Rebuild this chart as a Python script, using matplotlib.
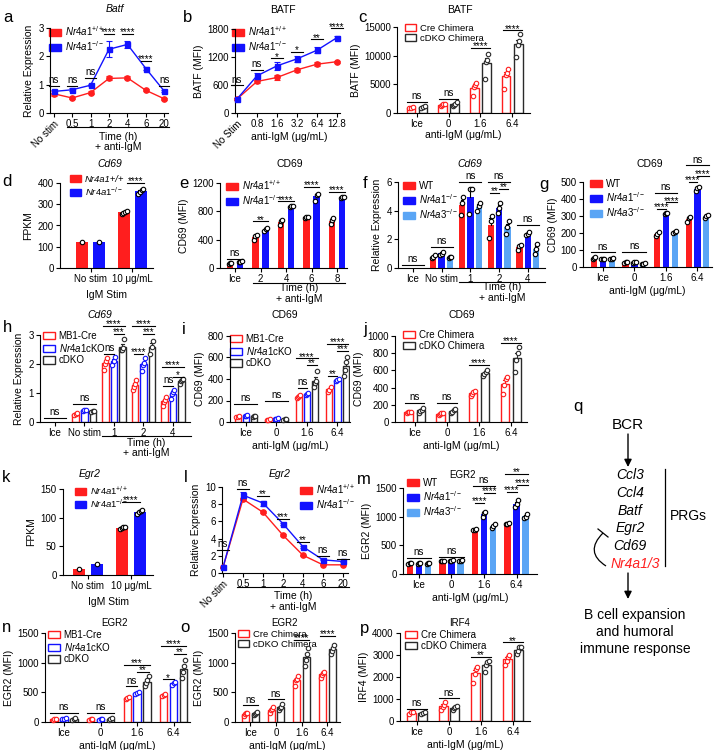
import numpy as np
import matplotlib
matplotlib.use('Agg')
import matplotlib.pyplot as plt
from matplotlib import transforms
from matplotlib.patches import Patch, FancyArrowPatch, PathPatch
from matplotlib.path import Path

plt.rcParams['font.family'] = ['Liberation Sans', 'DejaVu Sans']
plt.rcParams['mathtext.fontset'] = 'custom'
plt.rcParams['mathtext.rm'] = 'Liberation Sans'
plt.rcParams['mathtext.it'] = 'Liberation Sans:italic'
plt.rcParams['mathtext.bf'] = 'Liberation Sans:bold'
plt.rcParams['font.size'] = 7
plt.rcParams['axes.linewidth'] = 0.8

RED = '#ff1e1e'
BLUE = '#1212ff'
LBLUE = '#5aa5f5'
BLK = '#2a2a2a'

# ---------------- data ----------------
a_cats = ['No stim', '0.5', '1', '2', '4', '6', '20']
a_wt = [0.68, 0.53, 0.72, 1.22, 1.24, 0.80, 0.50]
a_wt_err = [0.08, 0.03, 0.04, 0.07, 0.05, 0.04, 0.03]
a_ko = [0.76, 0.82, 0.98, 2.25, 2.42, 1.57, 0.77]
a_ko_err = [0.05, 0.05, 0.04, 0.28, 0.13, 0.06, 0.04]
a_sig = ['ns', 'ns', 'ns', '****', '****', '****', 'ns']
a_sig_y = [0.96, 0.96, 1.24, 2.79, 2.79, 1.85, 0.96]

b_cats = ['No Stim', '0.8', '1.6', '3.2', '6.4', '12.8']
b_wt = [300, 676, 761, 925, 1046, 1100]
b_wt_err = [20, 40, 60, 40, 40, 20]
b_ko = [300, 797, 1010, 1160, 1345, 1615]
b_ko_err = [20, 50, 80, 60, 60, 30]
b_sig = ['ns', 'ns', '*', '*', '**', '****']
b_sig_y = [590, 925, 1174, 1316, 1580, 1814]

dose_cats = ['Ice', '0', '1.6', '6.4']

c_cre = [[850, 950, 1000], [1200, 1400, 1500, 1600], [3000, 4500, 4800, 5300], [4200, 6700, 7000, 7600]]
c_dko = [[900, 1100, 1150], [1200, 1400, 1600, 1900], [6000, 8900, 9300, 10350], [9800, 11800, 12600, 13700]]
c_sig = ['ns', 'ns', '****', '****']
c_sig_y = [1900, 2400, 11340, 14400]

d_cats = ['No stim', '10 μg/mL']
d_wt = [[120], [255, 260, 265, 270]]
d_ko = [[120], [350, 360, 365, 372]]

e_cats = ['Ice', '2', '4', '6', '8']
e_wt = [[60, 70, 75], [400, 450, 460], [600, 660, 680], [700, 715, 725], [620, 680, 700]]
e_ko = [[80, 88, 100], [520, 550, 560], [860, 875, 880], [950, 1030, 1050], [990, 1000, 1005]]
e_sig = ['ns', '**', '****', '****', '****']
e_sig_y = [130, 660, 941, 1143, 1073]

f_cats = ['Ice', 'No stim', '1', '2', '4']
f_wt = [[], [0.7, 0.8, 0.9], [3.7, 4.5, 4.95], [2.1, 3.3, 3.6], [1.25, 1.5, 1.6]]
f_nr4a1 = [[], [0.9, 1.0, 1.15], [3.8, 5.5, 5.5], [3.85, 4.2, 4.55], [2.3, 2.4, 2.5]]
f_nr4a3 = [[], [0.7, 0.75, 0.8], [4.0, 4.35, 4.5], [2.4, 2.85, 3.25], [1.0, 1.3, 1.7]]

g_wt = [[50, 55, 58], [25, 28, 30], [185, 195, 205], [265, 290, 292]]
g_nr4a1 = [[45, 48, 50], [25, 28, 32], [310, 315, 318], [448, 462, 468]]
g_nr4a3 = [[45, 50, 55], [18, 20, 22], [198, 205, 212], [290, 300, 308]]

h_cats = ['Ice', 'No stim', '1', '2', '4']
h_mb1 = [[], [0.25, 0.28, 0.31], [1.8, 2.0, 2.1, 2.2], [1.1, 1.2, 1.3, 1.45], [0.55, 0.68, 0.75, 0.85]]
h_cko = [[], [0.38, 0.4, 0.42], [1.95, 2.1, 2.25], [1.75, 1.95, 2.05, 2.2], [0.8, 0.95, 1.05, 1.1]]
h_dko = [[], [0.35, 0.37, 0.39], [2.5, 2.5, 2.55, 2.85], [2.35, 2.6, 2.8], [1.3, 1.4, 1.45, 1.5]]

i_mb1 = [[45, 50, 55], [15, 20, 25], [220, 235, 245, 255], [280, 300, 330]]
i_cko = [[55, 60, 65], [25, 30, 35], [255, 265, 270], [380, 392, 400]]
i_dko = [[50, 55, 60], [20, 25, 30], [324, 361, 377, 470], [430, 480, 560, 600]]

j_cre = [[110, 115, 118, 122], [80, 90, 100, 110], [300, 320, 350, 360], [324, 425, 502, 521]]
j_dko = [[110, 130, 145, 160], [100, 115, 135, 150], [540, 560, 580, 600], [587, 722, 799, 876]]
j_sig = ['ns', 'ns', '****', '****']
j_sig_y = [220, 220, 663, 918]

k_wt = [[11], [81, 82, 83, 84]]
k_ko = [[20], [107, 110, 112, 114]]

l_cats = ['No stim', '0.5', '1', '2', '4', '6', '20']
l_wt = [0.65, 8.59, 7.06, 4.39, 2.06, 0.95, 0.95]
l_wt_err = [0.05, 0.15, 0.1, 0.1, 0.08, 0.05, 0.05]
l_ko = [0.65, 9.05, 8.13, 5.73, 3.05, 1.53, 1.34]
l_ko_err = [0.05, 0.4, 0.3, 0.12, 0.1, 0.06, 0.06]
l_sig = ['ns', 'ns', '**', '***', '**', 'ns', 'ns']
l_sig_y = [2.67, 9.73, 8.97, 6.3, 3.6, 2.0, 1.6]

m_wt = [[180, 185, 190], [225, 228, 232], [760, 775, 790], [870, 880, 895]]
m_nr4a1 = [[180, 185, 190], [230, 235, 240], [1000, 1060, 1080], [1170, 1220, 1290]]
m_nr4a3 = [[180, 185, 190], [230, 235, 240], [810, 840, 870], [975, 1000, 1050]]

n_mb1 = [[40, 50, 55], [35, 45, 50], [380, 400, 420], [430, 460, 480]]
n_cko = [[45, 55, 60], [40, 50, 55], [470, 490, 500], [620, 650, 680]]
n_dko = [[40, 50, 60], [40, 50, 60], [600, 650, 700, 780], [750, 850, 950, 1050]]

o_cre = [[100, 130, 150, 160], [150, 200, 220, 250], [600, 700, 720, 780], [750, 800, 820, 850]]
o_dko = [[120, 140, 160, 170], [200, 230, 260, 300], [950, 1050, 1150, 1250], [1150, 1200, 1250, 1300]]
o_sig = ['ns', 'ns', '****', '****']
o_sig_y = [280, 380, 1380, 1450]

p_cre = [[300, 400, 420], [520, 650, 720, 850], [1750, 2150, 2350, 2450], [2550, 2750, 2900, 3000]]
p_dko = [[320, 350, 390], [500, 580, 650, 680], [2250, 2550, 2700, 2750], [3050, 3200, 3350, 3350]]
p_sig = ['ns', 'ns', '**', '**']
p_sig_y = [565, 1023, 2931, 3573]

prg_genes = ['Ccl3', 'Ccl4', 'Batf', 'Egr2', 'Cd69']

# ---------------- helpers ----------------
W, H = 720, 750
fig = plt.figure(figsize=(7.2, 7.5), dpi=100)


def add_ax(l, t, r, b):
    ax = fig.add_axes([l / W, 1 - b / H, (r - l) / W, (b - t) / H])
    for s in ['top', 'right']:
        ax.spines[s].set_visible(False)
    ax.tick_params(length=3, width=0.8, labelsize=7, pad=1.5)
    return ax


def ftext(x, y, s, **kw):
    fig.text(x / W, 1 - y / H, s, **kw)


def off_tr(ax, d):
    return ax.get_xaxis_transform() + transforms.ScaledTranslation(0, -d / 100, fig.dpi_scale_trans)


def time_axis(ax, x1, x2, dl, dt1, dt2):
    ax.plot([x1, x2], [0, 0], color='k', lw=0.8, transform=off_tr(ax, dl), clip_on=False)
    xm = (x1 + x2) / 2
    ax.text(xm, 0, 'Time (h)', transform=off_tr(ax, dt1), ha='center', va='center', fontsize=7.5)
    ax.text(xm, 0, '+ anti-IgM', transform=off_tr(ax, dt2), ha='center', va='center', fontsize=7.5)


def sig(ax, x1, x2, y, txt):
    ax.plot([x1, x2], [y, y], color='k', lw=0.8, clip_on=False, zorder=5)
    if txt == 'ns':
        ax.annotate('ns', ((x1 + x2) / 2, y), xytext=(0, 0.6), textcoords='offset points',
                    ha='center', va='bottom', fontsize=7, annotation_clip=False)
    else:
        ax.annotate(txt, ((x1 + x2) / 2, y), xytext=(0, -1.0), textcoords='offset points',
                    ha='center', va='baseline', fontsize=7, annotation_clip=False)


def draw_bars(ax, groups, colors, filled, width, offsets):
    for pts_list, col, off in zip(groups, colors, offsets):
        for i, pts in enumerate(pts_list):
            if len(pts) == 0:
                continue
            p = np.asarray(pts, float)
            m = p.mean()
            se = p.std(ddof=1) / np.sqrt(len(p)) if len(p) > 1 else 0.0
            x = i + off
            if filled:
                ax.bar(x, m, width, color=col, lw=0, zorder=2)
                ec, mec = 'k', 'k'
            else:
                ax.bar(x, m, width, facecolor='white', edgecolor=col, lw=1.0, zorder=2)
                ec, mec = col, col
            if se > 0:
                ax.plot([x, x], [m, m + se], color=ec, lw=0.8, zorder=3)
                ax.plot([x - width * 0.22, x + width * 0.22], [m + se] * 2, color=ec, lw=0.8, zorder=3)
            n = len(p)
            xs = x + (np.linspace(-width * 0.22, width * 0.22, n) if n > 1 else np.zeros(1))
            ax.plot(xs, p, 'o', ms=3.2, mfc='white', mec=mec, mew=0.8, zorder=4, clip_on=False)


def legend(ax, handles, labels, x, y, fs=7):
    leg = ax.legend(handles, labels, loc='upper left', bbox_to_anchor=(x / W, 1 - y / H),
                    bbox_transform=fig.transFigure, frameon=False, fontsize=fs,
                    handlelength=1.2, handleheight=0.75, handletextpad=0.4,
                    labelspacing=0.12, borderpad=0, borderaxespad=0)
    leg.set_zorder(1)
    return leg


def fpatch(c):
    return Patch(facecolor=c, edgecolor=c)


def opatch(c):
    return Patch(facecolor='white', edgecolor=c, lw=1.0)


WT_LAB = r'$\mathit{Nr4a1}^{+/+}$'
KO_LAB = r'$\mathit{Nr4a1}^{-/-}$'
A3_LAB = r'$\mathit{Nr4a3}^{-/-}$'
CKO_LAB = r'$\mathit{Nr4a1}$cKO'
UG = 'anti-IgM (μg/mL)'


def rot_first(ax):
    lab = ax.get_xticklabels()[0]
    lab.set_rotation(45)
    lab.set_ha('right')
    lab.set_rotation_mode('anchor')


def line_panel(ax, cats, wt, wt_err, ko, ko_err):
    x = np.arange(len(cats))
    ax.errorbar(x, wt, yerr=wt_err, color=RED, marker='o', ms=3.8, lw=1, capsize=2,
                elinewidth=0.8, capthick=0.8, clip_on=False, zorder=3)
    ax.errorbar(x, ko, yerr=ko_err, color=BLUE, marker='s', ms=3.6, lw=1, capsize=2,
                elinewidth=0.8, capthick=0.8, clip_on=False, zorder=3)
    ax.set_xticks(x)
    ax.set_xticklabels(cats)
    rot_first(ax)
    return x


# ---------------- panel a ----------------
ax = add_ax(50, 28, 168, 113)
x = line_panel(ax, a_cats, a_wt, a_wt_err, a_ko, a_ko_err)
ax.set_xlim(-0.2, 6.2)
ax.set_ylim(0, 3)
ax.set_yticks([0, 1, 2, 3])
ax.set_ylabel('Relative Expression', fontsize=7.5, labelpad=3)
for xi, s, y in zip(x, a_sig, a_sig_y):
    sig(ax, xi - 0.28, xi + 0.28, y, s)
legend(ax, [fpatch(RED), fpatch(BLUE)], [WT_LAB, KO_LAB], 49, 24)
time_axis(ax, 0.7, 6.25, 14, 24, 34)
ftext(115, 9, 'Batf', ha='center', va='center', fontsize=7.5, style='italic')
ftext(8, 17, 'a', ha='center', va='center', fontsize=12)

# ---------------- panel b ----------------
ax = add_ax(235, 29, 340, 113)
x = line_panel(ax, b_cats, b_wt, b_wt_err, b_ko, b_ko_err)
ax.set_xlim(-0.1, 5.15)
ax.set_ylim(0, 1800)
ax.set_yticks([0, 600, 1200, 1800])
ax.set_ylabel('BATF (MFI)', fontsize=7.5, labelpad=2)
ax.text(2.6, 0, UG, transform=off_tr(ax, 24), ha='center', va='center', fontsize=7.5)
for xi, s, y in zip(x, b_sig, b_sig_y):
    sig(ax, xi - 0.3, xi + 0.3, y, s)
legend(ax, [fpatch(RED), fpatch(BLUE)], [WT_LAB, KO_LAB], 232, 24)
ftext(283, 10, 'BATF', ha='center', va='center', fontsize=7.5)
ftext(188, 17, 'b', ha='center', va='center', fontsize=12)

# ---------------- panel c ----------------
ax = add_ax(397, 27, 530, 113)
draw_bars(ax, [c_cre, c_dko], [RED, BLK], False, 0.27, [-0.19, 0.19])
ax.set_xlim(-0.63, 3.56)
ax.set_ylim(0, 15000)
ax.set_yticks([0, 5000, 10000, 15000])
ax.set_xticks(range(4))
ax.set_xticklabels(dose_cats)
ax.set_ylabel('BATF (MFI)', fontsize=7.5, labelpad=2)
ax.set_xlabel(UG, fontsize=7.5, labelpad=0.5)
for i, (s, y) in enumerate(zip(c_sig, c_sig_y)):
    sig(ax, i - 0.3, i + 0.3, y, s)
legend(ax, [opatch(RED), opatch(BLK)], ['Cre Chimera', 'cDKO Chimera'], 405, 24, fs=6.8)
ftext(460, 10, 'BATF', ha='center', va='center', fontsize=7.5)
ftext(362, 17, 'c', ha='center', va='center', fontsize=12)

# ---------------- panel d ----------------
ax = add_ax(60, 183, 153, 268)
draw_bars(ax, [d_wt, d_ko], [RED, BLUE], True, 0.28, [-0.2, 0.2])
ax.set_xlim(-0.73, 1.49)
ax.set_ylim(0, 400)
ax.set_yticks([0, 100, 200, 300, 400])
ax.set_xticks(range(2))
ax.set_xticklabels(d_cats)
ax.set_ylabel('FPKM', fontsize=7.5, labelpad=3)
ax.set_xlabel('IgM Stim', fontsize=7.5, labelpad=4)
sig(ax, 0.88, 1.28, 400, '****')
lg = legend(ax, [fpatch(RED), fpatch(BLUE)], ['Nr4a1+/+', KO_LAB], 70, 175, fs=6.8)
lg.get_texts()[0].set_style('italic')
ftext(110, 164, 'Cd69', ha='center', va='center', fontsize=7.5, style='italic')
ftext(7, 182, 'd', ha='center', va='center', fontsize=12)

# ---------------- panel e ----------------
ax = add_ax(220, 183, 347, 268)
draw_bars(ax, [e_wt, e_ko], [RED, BLUE], True, 0.25, [-0.2, 0.2])
ax.set_xlim(-0.59, 4.39)
ax.set_ylim(0, 1200)
ax.set_yticks([0, 400, 800, 1200])
ax.set_xticks(range(5))
ax.set_xticklabels(e_cats)
ax.set_ylabel('CD69 (MFI)', fontsize=7.5, labelpad=2)
for i, (s, y) in enumerate(zip(e_sig, e_sig_y)):
    sig(ax, i - 0.3, i + 0.3, y, s)
legend(ax, [fpatch(RED), fpatch(BLUE)], [WT_LAB, KO_LAB], 226, 178)
time_axis(ax, 0.7, 4.3, 15, 20, 31)
ftext(290, 164, 'CD69', ha='center', va='center', fontsize=7.5)
ftext(184, 183, 'e', ha='center', va='center', fontsize=12)

# ---------------- panel f ----------------
ax = add_ax(398, 182, 545, 268)
draw_bars(ax, [f_wt, f_nr4a1, f_nr4a3], [RED, BLUE, LBLUE], True, 0.22, [-0.29, 0, 0.29])
ax.set_xlim(-0.52, 4.6)
ax.set_ylim(0, 6)
ax.set_yticks([0, 2, 4, 6])
ax.set_xticks(range(5))
ax.set_xticklabels(f_cats)
ax.set_ylabel('Relative Expression', fontsize=7.5, labelpad=3)
sig(ax, -0.38, 0.38, 0.23, 'ns')
sig(ax, 0.62, 1.38, 1.48, 'ns')
sig(ax, 1.62, 2.38, 6.0, 'ns')
sig(ax, 2.62, 3.38, 6.0, 'ns')
sig(ax, 2.68, 3.0, 5.22, '**')
sig(ax, 3.0, 3.32, 5.5, '**')
sig(ax, 3.62, 4.38, 3.0, 'ns')
legend(ax, [fpatch(RED), fpatch(BLUE), fpatch(LBLUE)], ['WT', KO_LAB, A3_LAB], 403, 181)
time_axis(ax, 1.6, 4.6, 14, 19, 30)
ftext(470, 164, 'Cd69', ha='center', va='center', fontsize=7.5, style='italic')
ftext(365, 183, 'f', ha='center', va='center', fontsize=12)

# ---------------- panel g ----------------
ax = add_ax(583, 182, 712, 267)
draw_bars(ax, [g_wt, g_nr4a1, g_nr4a3], [RED, BLUE, LBLUE], True, 0.2, [-0.28, 0, 0.28])
ax.set_xlim(-0.63, 3.46)
ax.set_ylim(0, 500)
ax.set_yticks([0, 100, 200, 300, 400, 500])
ax.set_xticks(range(4))
ax.set_xticklabels(dose_cats)
ax.set_ylabel('CD69 (MFI)', fontsize=7.5, labelpad=2)
ax.set_xlabel(UG, fontsize=7.5, labelpad=2)
sig(ax, -0.38, 0.38, 86, 'ns')
sig(ax, 0.62, 1.38, 88, 'ns')
sig(ax, 1.72, 2.0, 341, '****')
sig(ax, 2.0, 2.35, 380, '****')
sig(ax, 1.65, 2.35, 435, 'ns')
sig(ax, 2.72, 3.0, 500, '****')
sig(ax, 3.0, 3.35, 537, '****')
sig(ax, 2.65, 3.35, 598, 'ns')
legend(ax, [fpatch(RED), fpatch(BLUE), fpatch(LBLUE)], ['WT', KO_LAB, A3_LAB], 590, 179)
ftext(650, 164, 'CD69', ha='center', va='center', fontsize=7.5)
ftext(544, 184, 'g', ha='center', va='center', fontsize=12)

# ---------------- panel h ----------------
ax = add_ax(40, 335, 190, 422)
draw_bars(ax, [h_mb1, h_cko, h_dko], [RED, BLUE, BLK], False, 0.22, [-0.29, 0, 0.29])
ax.set_xlim(-0.5, 4.58)
ax.set_ylim(0, 3)
ax.set_yticks([0, 1, 2, 3])
ax.set_xticks(range(5))
ax.set_xticklabels(h_cats)
ax.set_ylabel('Relative Expression', fontsize=7.5, labelpad=3)
sig(ax, -0.38, 0.38, 0.15, 'ns')
sig(ax, 0.62, 1.38, 0.61, 'ns')
for c in (2, 3):
    sig(ax, c - 0.38, c + 0.38, 3.31, '****')
    sig(ax, c + 0.0, c + 0.36, 3.05, '***')
sig(ax, 1.68, 2.0, 2.36, 'ns')
sig(ax, 2.68, 3.0, 2.36, '****')
sig(ax, 3.62, 4.38, 1.9, '****')
sig(ax, 4.0, 4.36, 1.56, '*')
sig(ax, 3.68, 4.0, 1.23, 'ns')
legend(ax, [opatch(RED), opatch(BLUE), opatch(BLK)], ['MB1-Cre', CKO_LAB, 'cDKO'], 43, 331)
time_axis(ax, 1.6, 4.6, 14, 21, 31)
ftext(100, 315, 'Cd69', ha='center', va='center', fontsize=7.5, style='italic')
ftext(7, 328, 'h', ha='center', va='center', fontsize=12)

# ---------------- panel i ----------------
ax = add_ax(230, 336, 350, 422)
draw_bars(ax, [i_mb1, i_cko, i_dko], [RED, BLUE, BLK], False, 0.2, [-0.27, 0, 0.27])
ax.set_xlim(-0.52, 3.41)
ax.set_ylim(0, 800)
ax.set_yticks([0, 200, 400, 600, 800])
ax.set_xticks(range(4))
ax.set_xticklabels(dose_cats)
ax.set_ylabel('CD69 (MFI)', fontsize=7.5, labelpad=2)
ax.set_xlabel(UG, fontsize=7.5, labelpad=2)
sig(ax, -0.38, 0.38, 170, 'ns')
sig(ax, 0.62, 1.38, 200, 'ns')
sig(ax, 1.7, 2.0, 315, 'ns')
sig(ax, 2.0, 2.33, 531, '**')
sig(ax, 1.65, 2.35, 593, '****')
sig(ax, 2.7, 3.0, 429, '**')
sig(ax, 3.0, 3.33, 663, '***')
sig(ax, 2.65, 3.35, 725, '****')
legend(ax, [opatch(RED), opatch(BLUE), opatch(BLK)], ['MB1-Cre', CKO_LAB, 'cDKO'], 230, 334)
ftext(285, 315, 'CD69', ha='center', va='center', fontsize=7.5)
ftext(184, 329, 'i', ha='center', va='center', fontsize=12)

# ---------------- panel j ----------------
ax = add_ax(395, 336, 527, 422)
draw_bars(ax, [j_cre, j_dko], [RED, BLK], False, 0.27, [-0.19, 0.19])
ax.set_xlim(-0.62, 3.5)
ax.set_ylim(0, 1000)
ax.set_yticks([0, 200, 400, 600, 800, 1000])
ax.set_xticks(range(4))
ax.set_xticklabels(dose_cats)
ax.set_ylabel('CD69 (MFI)', fontsize=7.5, labelpad=2)
ax.set_xlabel(UG, fontsize=7.5, labelpad=2)
for i, (s, y) in enumerate(zip(j_sig, j_sig_y)):
    sig(ax, i - 0.3, i + 0.3, y, s)
legend(ax, [opatch(RED), opatch(BLK)], ['Cre Chimera', 'cDKO Chimera'], 403, 330)
ftext(462, 315, 'CD69', ha='center', va='center', fontsize=7.5)
ftext(365, 330, 'j', ha='center', va='center', fontsize=12)

# ---------------- panel k ----------------
ax = add_ax(63, 489, 153, 575)
draw_bars(ax, [k_wt, k_ko], [RED, BLUE], True, 0.28, [-0.2, 0.2])
ax.set_xlim(-0.58, 1.51)
ax.set_ylim(0, 150)
ax.set_yticks([0, 50, 100, 150])
ax.set_xticks(range(2))
ax.set_xticklabels(d_cats)
ax.set_ylabel('FPKM', fontsize=7.5, labelpad=3)
ax.set_xlabel('IgM Stim', fontsize=7.5, labelpad=4)
sig(ax, 0.8, 1.2, 128, '****')
legend(ax, [fpatch(RED), fpatch(BLUE)], [WT_LAB, KO_LAB], 75, 484, fs=6.8)
ftext(90, 474, 'Egr2', ha='center', va='center', fontsize=7.5, style='italic')
ftext(6, 478, 'k', ha='center', va='center', fontsize=12)

# ---------------- panel l ----------------
ax = add_ax(222, 487, 348, 573)
x = line_panel(ax, l_cats, l_wt, l_wt_err, l_ko, l_ko_err)
ax.set_xlim(-0.05, 6.25)
ax.set_ylim(0, 10)
ax.set_yticks([0, 2, 4, 6, 8, 10])
ax.set_ylabel('Relative Expression', fontsize=7.5, labelpad=3)
for xi, s, y in zip(x, l_sig, l_sig_y):
    sig(ax, xi - 0.3, xi + 0.3, y, s)
legend(ax, [fpatch(RED), fpatch(BLUE)], [WT_LAB, KO_LAB], 300, 482)
time_axis(ax, 0.7, 6.3, 14, 23, 34)
ftext(280, 474, 'Egr2', ha='center', va='center', fontsize=7.5, style='italic')
ftext(186, 478, 'l', ha='center', va='center', fontsize=12)

# ---------------- panel m ----------------
ax = add_ax(403, 488, 537, 574)
draw_bars(ax, [m_wt, m_nr4a1, m_nr4a3], [RED, BLUE, LBLUE], True, 0.2, [-0.28, 0, 0.28])
ax.set_xlim(-0.49, 3.63)
ax.set_ylim(0, 1500)
ax.set_yticks([0, 500, 1000, 1500])
ax.set_xticks(range(4))
ax.set_xticklabels(dose_cats)
ax.set_ylabel('EGR2 (MFI)', fontsize=7.5, labelpad=2)
ax.set_xlabel(UG, fontsize=7.5, labelpad=2)
sig(ax, -0.38, 0.38, 275, 'ns')
sig(ax, 0.62, 1.38, 304, 'ns')
sig(ax, 1.72, 2.0, 1240, '****')
sig(ax, 2.0, 2.35, 1415, '****')
sig(ax, 1.65, 2.35, 1532, 'ns')
sig(ax, 2.72, 3.0, 1433, '****')
sig(ax, 3.0, 3.35, 1561, '****')
sig(ax, 2.65, 3.35, 1749, '**')
legend(ax, [fpatch(RED), fpatch(BLUE), fpatch(LBLUE)], ['WT', KO_LAB, A3_LAB], 407, 478)
ftext(462, 475, 'EGR2', ha='center', va='center', fontsize=7)
ftext(364, 480, 'm', ha='center', va='center', fontsize=12)

# ---------------- panel n ----------------
ax = add_ax(45, 633, 190, 722)
draw_bars(ax, [n_mb1, n_cko, n_dko], [RED, BLUE, BLK], False, 0.2, [-0.27, 0, 0.27])
ax.set_xlim(-0.52, 3.45)
ax.set_ylim(0, 1500)
ax.set_yticks([0, 500, 1000, 1500])
ax.set_xticks(range(4))
ax.set_xticklabels(dose_cats)
ax.set_ylabel('EGR2 (MFI)', fontsize=7.5, labelpad=2)
ax.set_xlabel(UG, fontsize=7.5, labelpad=2)
sig(ax, -0.38, 0.38, 150, 'ns')
sig(ax, 0.62, 1.38, 150, 'ns')
sig(ax, 1.7, 2.0, 600, 'ns')
sig(ax, 2.0, 2.33, 850, '**')
sig(ax, 1.65, 2.35, 960, '***')
sig(ax, 2.7, 3.0, 720, '*')
sig(ax, 3.0, 3.33, 1150, '**')
sig(ax, 2.65, 3.35, 1280, '****')
legend(ax, [opatch(RED), opatch(BLUE), opatch(BLK)], ['MB1-Cre', CKO_LAB, 'cDKO'], 48, 630)
ftext(115, 623, 'EGR2', ha='center', va='center', fontsize=7)
ftext(7, 627, 'n', ha='center', va='center', fontsize=12)

# ---------------- panel o ----------------
ax = add_ax(235, 633, 340, 722)
draw_bars(ax, [o_cre, o_dko], [RED, BLK], False, 0.27, [-0.19, 0.19])
ax.set_xlim(-0.6, 3.5)
ax.set_ylim(0, 1500)
ax.set_yticks([0, 500, 1000, 1500])
ax.set_xticks(range(4))
ax.set_xticklabels(dose_cats)
ax.set_ylabel('EGR2 (MFI)', fontsize=7.5, labelpad=2)
ax.set_xlabel(UG, fontsize=7.5, labelpad=2)
for i, (s, y) in enumerate(zip(o_sig, o_sig_y)):
    sig(ax, i - 0.3, i + 0.3, y, s)
legend(ax, [opatch(RED), opatch(BLK)], ['Cre Chimera', 'cDKO Chimera'], 238, 630, fs=6.8)
ftext(285, 623, 'EGR2', ha='center', va='center', fontsize=7)
ftext(185, 627, 'o', ha='center', va='center', fontsize=12)

# ---------------- panel p ----------------
ax = add_ax(400, 633, 530, 721)
draw_bars(ax, [p_cre, p_dko], [RED, BLK], False, 0.28, [-0.18, 0.18])
ax.set_xlim(-0.53, 3.53)
ax.set_ylim(0, 4000)
ax.set_yticks([0, 1000, 2000, 3000, 4000])
ax.set_xticks(range(4))
ax.set_xticklabels(dose_cats)
ax.set_ylabel('IRF4 (MFI)', fontsize=7.5, labelpad=2)
ax.set_xlabel(UG, fontsize=7.5, labelpad=2)
for i, (s, y) in enumerate(zip(p_sig, p_sig_y)):
    sig(ax, i - 0.3, i + 0.3, y, s)
legend(ax, [opatch(RED), opatch(BLK)], ['Cre Chimera', 'cDKO Chimera'], 405, 630)
ftext(460, 623, 'IRF4', ha='center', va='center', fontsize=7)
ftext(365, 628, 'p', ha='center', va='center', fontsize=12)

# ---------------- panel q (diagram) ----------------
ov = fig.add_axes([0, 0, 1, 1])
ov.set_xlim(0, W)
ov.set_ylim(H, 0)
ov.axis('off')
ov.patch.set_alpha(0)
ov.text(578, 407, 'q', ha='center', va='center', fontsize=12)
ov.text(628, 425, 'BCR', ha='center', va='center', fontsize=11)
ov.add_patch(FancyArrowPatch((628, 434), (628, 467), arrowstyle='-|>', mutation_scale=11,
                             color='k', lw=1.0, shrinkA=0, shrinkB=0))
gy = [475, 493, 511, 528, 546]
for g_name, yy in zip(prg_genes, gy):
    ov.text(630, yy, g_name, ha='center', va='center', fontsize=10, style='italic')
ov.text(635, 564, 'Nr4a1/3', ha='center', va='center', fontsize=10, style='italic', color=RED)
ov.plot([665, 665], [469, 566], color='k', lw=0.9)
ov.text(670, 516, 'PRGs', ha='left', va='center', fontsize=10)
path = Path([(606, 566), (584, 552), (603, 533)], [Path.MOVETO, Path.CURVE3, Path.CURVE3])
ov.add_patch(PathPatch(path, facecolor='none', edgecolor='k', lw=0.9))
ov.plot([598, 608], [529, 537], color='k', lw=0.9)
ov.add_patch(FancyArrowPatch((628, 573), (628, 599), arrowstyle='-|>', mutation_scale=11,
                             color='k', lw=1.0, shrinkA=0, shrinkB=0))
ov.text(635, 615, 'B cell expansion', ha='center', va='center', fontsize=10)
ov.text(635, 632, 'and humoral', ha='center', va='center', fontsize=10)
ov.text(635, 649, 'immune response', ha='center', va='center', fontsize=10)

fig.savefig('out.png', dpi=100)
